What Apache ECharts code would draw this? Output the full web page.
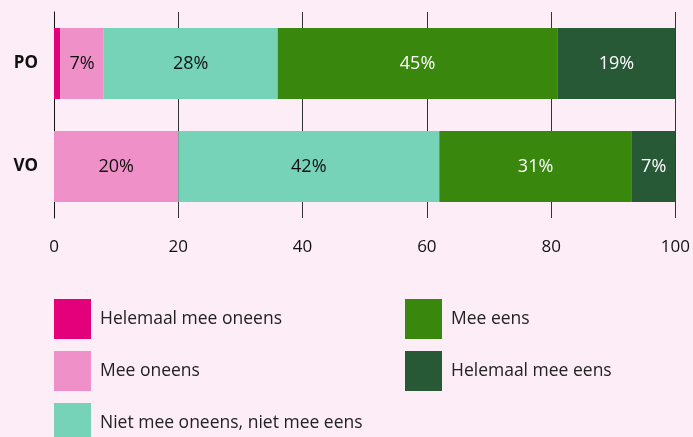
<!DOCTYPE html>
<html>
<head>
<meta charset="utf-8">
<script src="https://cdn.jsdelivr.net/npm/echarts@6/dist/echarts.min.js"></script>
<style>
  html, body { margin: 0; padding: 0; background: #fcedf6; }
  #chart { width: 693px; height: 437px; }
</style>
</head>
<body>
<div id="chart"></div>
<script>
  // categories (top to bottom) and answer shares in percent
  var categories = ['PO', 'VO'];
  var helemaalOneens = [1, 0];
  var meeOneens = [7, 20];
  var neutraal = [28, 42];
  var meeEens = [45, 31];
  var helemaalEens = [19, 7];
  var xTicks = [0, 20, 40, 60, 80, 100];

  var font = '"Open Sans", sans-serif';

  function makeSeries(name, data, color, labelColor) {
    return {
      name: name,
      type: 'bar',
      stack: 'total',
      barWidth: 71,
      itemStyle: { color: color },
      label: {
        show: true,
        color: labelColor,
        fontFamily: font,
        fontSize: 18,
        formatter: function (p) { return p.value >= 5 ? p.value + '%' : ''; }
      },
      data: data
    };
  }

  var legendText = { fontFamily: font, fontSize: 17.5, color: '#222', padding: [2, 0, 0, 4] };

  var chart = echarts.init(document.getElementById('chart'));
  chart.setOption({
    backgroundColor: '#fcedf6',
    animation: false,
    grid: { left: 54, right: 16, top: 12, bottom: 219 },
    legend: [
      {
        left: 54, top: 299, height: 150, padding: 0, orient: 'vertical',
        itemWidth: 37, itemHeight: 40, itemGap: 12,
        icon: 'rect',
        textStyle: legendText,
        data: ['Helemaal mee oneens', 'Mee oneens', 'Niet mee oneens, niet mee eens']
      },
      {
        left: 405, top: 299, height: 150, padding: 0, orient: 'vertical',
        itemWidth: 37, itemHeight: 40, itemGap: 12,
        icon: 'rect',
        textStyle: legendText,
        data: ['Mee eens', 'Helemaal mee eens']
      }
    ],
    xAxis: {
      type: 'value',
      min: xTicks[0],
      max: xTicks[xTicks.length - 1],
      interval: 20,
      axisLine: { show: false },
      axisTick: { show: false },
      splitLine: { show: true, lineStyle: { color: '#333', width: 1 } },
      axisLabel: { fontFamily: font, fontSize: 17, color: '#111', margin: 21 }
    },
    yAxis: {
      type: 'category',
      inverse: true,
      data: categories,
      axisLine: { show: true, lineStyle: { color: '#111', width: 1 } },
      axisTick: { show: false },
      axisLabel: { fontFamily: font, fontSize: 17, fontWeight: 'bold', color: '#111', margin: 16 }
    },
    series: [
      makeSeries('Helemaal mee oneens', helemaalOneens, '#e3007a', '#111'),
      makeSeries('Mee oneens', meeOneens, '#f090c9', '#111'),
      makeSeries('Niet mee oneens, niet mee eens', neutraal, '#76d3b8', '#111'),
      makeSeries('Mee eens', meeEens, '#39870c', '#fff'),
      makeSeries('Helemaal mee eens', helemaalEens, '#275937', '#fff')
    ]
  });
</script>
</body>
</html>
